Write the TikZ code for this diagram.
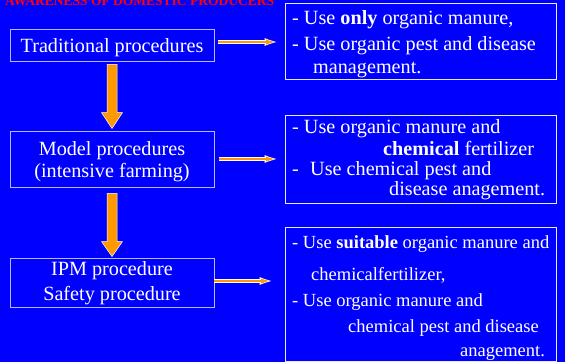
\documentclass[tikz,border=0pt]{standalone}
\usepackage{fontspec}
\setmainfont{Liberation Serif}
\usetikzlibrary{calc,arrows.meta}
\definecolor{bgblue}{HTML}{0000FF}
\definecolor{arrorange}{HTML}{FF9900}
\definecolor{lborder}{HTML}{B8B8FF}
\definecolor{rborder}{HTML}{E8E8FF}
\tikzset{
  lbox/.style={draw=lborder, line width=0.9pt, rectangle, minimum width=204pt, inner sep=0pt},
  rbox/.style={draw=rborder, line width=0.9pt, rectangle, minimum width=271pt, inner sep=0pt},
  ltext/.style={anchor=base, inner sep=0pt, text=white, font=\fontsize{20.2}{24}\selectfont},
  rtext/.style={anchor=base west, inner sep=0pt, text=white, font=\fontsize{20.2}{24}\selectfont},
  rtextsmall/.style={rtext, font=\fontsize{18.5}{22}\selectfont},
  fatarrow/.style={fill=arrorange, draw=white, line width=0.5pt},
  harrowout/.style={draw=white, line width=4pt, -{Latex[length=15pt,width=8pt]}},
  harrowin/.style={draw=arrorange, line width=2.2pt, -{Latex[length=12pt,width=5pt]}, shorten >=1.5pt},
}
\begin{document}
\begin{tikzpicture}[x=1pt,y=-1pt]
\useasboundingbox (0,0) rectangle (565,362);
\fill[bgblue] (0,0) rectangle (565,362);
% title
\node[anchor=base west, inner sep=0pt, text=red, font=\bfseries\fontsize{13.5}{16}\selectfont] (title) at (5,5) {AWARENESS OF DOMESTIC PRODUCERS};
% left boxes
\node[lbox, minimum height=32pt] (b1) at (112,45) {};
\node[lbox, minimum height=56pt] (b2) at (112,159) {};
\node[lbox, minimum height=49pt] (b3) at (112,282.5) {};
\node[ltext] (t1) at (112,52) {Traditional procedures};
\node[ltext] (t2a) at (112,155) {Model procedures};
\node[ltext] (t2b) at (112,177) {(intensive farming)};
\node[ltext] (t3a) at (112,275) {IPM procedure};
\node[ltext] (t3b) at (112,300) {Safety procedure};
% right boxes
\node[rbox, minimum height=76pt] (r1) at (420.5,41) {};
\node[rbox, minimum height=88pt] (r2) at (420.5,159) {};
\node[rbox, minimum height=134pt] (r3) at (420.5,294) {};
\node[rtext] (r1a) at (292,24) {- Use \textbf{only} organic manure,};
\node[rtext] (r1b) at (292,50) {- Use organic pest and disease};
\node[rtext] (r1c) at (313,73) {management.};
\node[rtext] (r2a) at (292,133) {- Use organic manure and};
\node[rtext] (r2b) at (383,155) {\textbf{chemical} fertilizer};
\node[rtext] (r2c) at (292,175) {-\hspace{11.3pt}Use chemical pest and};
\node[rtext] (r2d) at (389,195) {disease anagement.};
\node[rtextsmall] (r3a) at (292,248) {- Use \textbf{suitable} organic manure and};
\node[rtextsmall] (r3b) at (311,280) {chemicalfertilizer,};
\node[rtextsmall] (r3c) at (292,306) {- Use organic manure and};
\node[rtextsmall] (r3d) at (348,332) {chemical pest and disease};
\node[rtextsmall] (r3e) at (460,356) {anagement.};
% down arrows
\coordinate (a1s) at ($(b1.south)+(0,3)$);
\coordinate (a1e) at ($(b2.north)+(0,-2)$);
\draw[fatarrow] ($(a1s)+(-5,0)$) -- ($(a1e)+(-5,-16)$) -- ($(a1e)+(-10.5,-16)$) -- (a1e)
  -- ($(a1e)+(10.5,-16)$) -- ($(a1e)+(5,-16)$) -- ($(a1s)+(5,0)$) -- cycle;
\coordinate (a2s) at ($(b2.south)+(0,6)$);
\coordinate (a2e) at ($(b3.north)+(0,-1)$);
\draw[fatarrow] ($(a2s)+(-5,0)$) -- ($(a2e)+(-5,-15)$) -- ($(a2e)+(-10.5,-15)$) -- (a2e)
  -- ($(a2e)+(10.5,-15)$) -- ($(a2e)+(5,-15)$) -- ($(a2s)+(5,0)$) -- cycle;
% horizontal arrows
\foreach \s/\e in {{($(b1.east)+(4,-3)$)}/{($(b1.east -| r1.west)+(-5,-3)$)},
                   {($(b2.east)+(5,0)$)}/{($(b2.east -| r2.west)+(-5,0)$)},
                   {($(b3.east)+(0,-1.5)$)}/{($(b3.east -| r3.west)+(-10,-1.5)$)}}{
  \draw[harrowout] \s -- \e;
  \draw[harrowin] \s -- \e;
}
\end{tikzpicture}
\end{document}
